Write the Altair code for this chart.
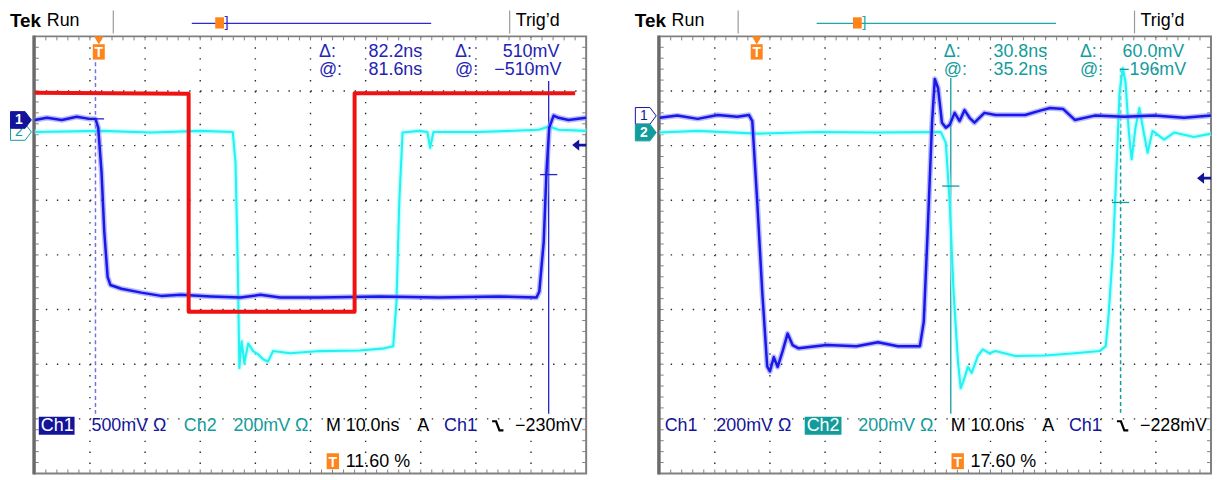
import altair as alt
import pandas as pd

# ---------------- waveform data: time in ns, level in graticule divisions ----------------
# Left screen (Ch1 500mV/div, Ch2 200mV/div, reference in red)
L_CH1_T = [0, 2.2, 4.9, 7.6, 9.9, 11.0, 11.5, 12.1, 12.6, 13.2, 13.7, 15.7, 19.3, 22.9, 26.5, 31.9,
           37.3, 40.9, 44.5, 51.7, 62.5, 73.3, 84.1, 91.0, 91.5, 92.3, 92.8, 93.3, 94.1, 95.0, 96.8, 100]
L_CH1_V = [2.47, 2.51, 2.47, 2.53, 2.49, 2.49, 2.33, 1.51, 0.42, -0.40, -0.55, -0.62, -0.69, -0.75, -0.73, -0.76,
           -0.78, -0.73, -0.78, -0.78, -0.76, -0.78, -0.76, -0.78, -0.67, 0.24, 1.51, 2.33, 2.55, 2.51, 2.47, 2.51]
L_CH2_T = [0, 12.1, 21.1, 30.1, 35.9, 36.4, 36.8, 37.1, 37.5, 38.0, 38.7, 39.6, 40.5, 41.4, 42.3, 43.2, 46.3,
           51.7, 58.9, 63.4, 65.0, 65.6, 66.1, 66.7, 69.7, 71.2, 71.7, 72.3, 80.5, 91.4, 93.2, 95.0, 100]
L_CH2_V = [2.25, 2.27, 2.24, 2.27, 2.25, 1.69, -0.13, -2.07, -1.58, -1.98, -1.62, -1.76, -1.82, -1.91, -1.95, -1.76,
           -1.80, -1.76, -1.75, -1.71, -1.67, -0.85, 0.96, 2.24, 2.27, 2.25, 1.96, 2.25, 2.25, 2.29, 2.35, 2.29, 2.27]
L_REF_T = [0, 27.9, 27.9, 58.0, 58.0, 98.0]
L_REF_V = [2.97, 2.95, -1.04, -1.04, 2.96, 2.96]

# Right screen (Ch1 200mV/div, Ch2 200mV/div)
R_CH1_T = [0, 3.2, 6.9, 10.5, 14.1, 16.2, 16.8, 17.7, 18.6, 19.5, 20.0, 20.7, 21.4, 22.3, 23.2, 24.1,
           25.2, 30.3, 35.7, 39.6, 43.2, 47.2, 47.9, 48.6, 49.4, 49.9, 50.5, 51.2, 51.9, 52.6, 53.5,
           54.4, 55.3, 56.2, 57.1, 58.9, 60.9, 66.3, 69.0, 70.8, 73.2, 75.3, 78.9, 84.3, 89.7, 95.1, 100]
R_CH1_V = [2.51, 2.55, 2.49, 2.56, 2.53, 2.56, 2.45, 0.96, -0.67, -2.04, -2.13, -1.87, -2.05, -1.76, -1.44, -1.65,
           -1.71, -1.65, -1.67, -1.60, -1.67, -1.67, -1.22, 0.42, 2.42, 3.22, 3.05, 2.42, 2.33, 2.38, 2.60,
           2.45, 2.65, 2.51, 2.42, 2.60, 2.56, 2.56, 2.64, 2.69, 2.67, 2.47, 2.55, 2.53, 2.55, 2.51, 2.55]
R_CH2_T = [0, 6.9, 17.7, 28.5, 39.3, 51.0, 51.9, 52.6, 53.3, 54.1, 54.6, 55.1, 55.9, 56.6, 57.7, 58.6,
           59.8, 60.9, 64.5, 69.9, 75.3, 79.8, 80.9, 81.4, 82.2, 82.9, 83.4, 84.0, 84.5, 85.1, 85.6,
           86.3, 87.0, 87.8, 88.5, 89.4, 91.5, 93.3, 96.9, 100]
R_CH2_V = [2.24, 2.27, 2.22, 2.25, 2.24, 2.25, 2.05, 0.96, -0.67, -1.95, -2.44, -2.31, -2.05, -2.16, -1.85, -1.73,
           -1.80, -1.76, -1.85, -1.84, -1.80, -1.76, -1.67, -1.13, 0.05, 1.69, 2.96, 3.42, 3.15, 2.24, 1.75,
           2.33, 2.69, 2.24, 1.87, 2.27, 2.11, 2.24, 2.16, 2.22]

# Scope settings / markers (ns and divisions)
CH1_GND = [2.47, 2.545]
CH2_GND = [2.25, 2.24]
TRIG_T = [11.6, 17.6]
TRIG_LVL = [2.01, 1.405]
CUR_SOLID_T = [93.2, 52.8]
CUR_SOLID_V = [1.47, 1.26]
CUR_DASH_T = [11.0, 83.6]
CUR_DASH_V = [2.49, 0.96]

READ_TIME = [["82.2ns", "81.6ns"], ["30.8ns", "35.2ns"]]
READ_VOLT = [["510mV", "\u2212510mV"], ["60.0mV", "\u2212196mV"]]
CH1_SCALE = ["500mV \u03a9", "200mV \u03a9"]
CH2_SCALE = ["200mV \u03a9", "200mV \u03a9"]
TRIG_READ = ["\u2212230mV", "\u2212228mV"]
TRIG_POS = ["11.60 %", "17.60 %"]

# graticule
GRID_T = [10, 20, 30, 40, 50, 60, 70, 80, 90]
GRID_V = [-3, -2, -1, 0, 1, 2, 3]
TICK_T = [2 * i for i in range(1, 50)]
TICK_V = [round(-4 + 0.2 * i, 2) for i in range(1, 40)]

# ---------------- styling ----------------
W, H = 555, 440
FONT = "Liberation Sans"
NAVY = "#14149a"
BLUE = "#1818e8"
BLUE_HALO = "#8c8cff"
TEAL = "#139c9c"
CYAN = "#22f2f2"
CYAN_HALO = "#a8ffff"
RED = "#f01212"
ORANGE = "#ff8419"
GRID = "#2a2a2a"
FRAME = "#808080"

XS = alt.Scale(domain=[0, 100], nice=False, zero=False)
YS = alt.Scale(domain=[-4, 4], nice=False, zero=False)
ONE = pd.DataFrame({"k": [0]})


def X(field="t"):
    return alt.X(f"{field}:Q", scale=XS, axis=None)


def Y(field="v"):
    return alt.Y(f"{field}:Q", scale=YS, axis=None)


def txt(s, x, y, color="#000000", size=18, weight="normal", align="left"):
    return alt.Chart(ONE).mark_text(text=s, align=align, baseline="middle", font=FONT,
                                    fontSize=size, fontWeight=weight, color=color
                                    ).encode(x=alt.value(x), y=alt.value(y))


def rule(x1, y1, x2, y2, color, w=1.0, dash=None):
    kw = dict(color=color, strokeWidth=w)
    if dash:
        kw["strokeDash"] = dash
    return alt.Chart(ONE).mark_rule(**kw).encode(x=alt.value(x1), y=alt.value(y1),
                                                   x2=alt.value(x2), y2=alt.value(y2))


def box(x1, y1, x2, y2, fill):
    return alt.Chart(ONE).mark_rect(color=fill).encode(x=alt.value(x1), y=alt.value(y1),
                                                       x2=alt.value(x2), y2=alt.value(y2))


def trace(ts, vs, color, w, halo=None, hw=0):
    df = pd.DataFrame({"t": ts, "v": vs, "i": list(range(len(ts)))})
    enc = dict(x=X(), y=Y(), order=alt.Order("i:Q"))
    out = []
    if halo:
        out.append(alt.Chart(df).mark_line(color=halo, strokeWidth=hw, opacity=0.6,
                                           strokeJoin="round").encode(**enc))
    out.append(alt.Chart(df).mark_line(color=color, strokeWidth=w, strokeJoin="round").encode(**enc))
    return out


CH_MARK = "M-1,-0.8 L0.4,-0.8 L1,0 L0.4,0.8 L-1,0.8 Z"
TBOX = "M-0.72,-0.85 L0.72,-0.85 L0.72,1 L-0.72,1 Z"
ARROW = "M-1,0 L0,-0.8 L0,-0.2 L1,-0.2 L1,0.2 L0,0.2 L0,0.8 Z"
HBAR = "M-1,0 L1,0"
SLOPE = "M-1,-0.8 L-0.3,-0.8 L0.3,0.8 L1,0.8"


def panel(p):
    L = []
    # anchor for layout (top-left corner of screen area)
    L.append(alt.Chart(ONE).mark_point(opacity=0, size=1).encode(x=alt.value(-25), y=alt.value(-25)))

    # graticule dots
    L.append(alt.Chart(pd.DataFrame({"t": GRID_T})).mark_rule(
        color=GRID, strokeWidth=1.4, strokeDash=[1.4, 9.6]).encode(x=X(), y=alt.value(0), y2=alt.value(H)))
    L.append(alt.Chart(pd.DataFrame({"v": GRID_V})).mark_rule(
        color=GRID, strokeWidth=1.4, strokeDash=[1.4, 9.7]).encode(y=Y(), x=alt.value(0), x2=alt.value(W)))
    # edge ticks
    tt = pd.DataFrame({"t": TICK_T})
    tv = pd.DataFrame({"v": TICK_V})
    L.append(alt.Chart(tt).mark_rule(color=FRAME, strokeWidth=1).encode(x=X(), y=alt.value(0), y2=alt.value(4)))
    L.append(alt.Chart(tt).mark_rule(color=FRAME, strokeWidth=1).encode(x=X(), y=alt.value(H), y2=alt.value(H - 4)))
    L.append(alt.Chart(tv).mark_rule(color=FRAME, strokeWidth=1).encode(y=Y(), x=alt.value(0), x2=alt.value(4)))
    L.append(alt.Chart(tv).mark_rule(color=FRAME, strokeWidth=1).encode(y=Y(), x=alt.value(W), x2=alt.value(W - 4)))
    # frame
    L.append(alt.Chart(ONE).mark_rect(fillOpacity=0, stroke=FRAME, strokeWidth=2).encode(
        x=alt.value(0), x2=alt.value(W), y=alt.value(0), y2=alt.value(H)))
    L.append(rule(-1, -1, -1, H + 1, "#6a6a6a", 3))

    # cursors
    ccol = "#2323c8" if p == 0 else TEAL
    dcol = "#7272e6" if p == 0 else TEAL
    cs = pd.DataFrame({"t": [CUR_SOLID_T[p]], "v": [CUR_SOLID_V[p]]})
    cd = pd.DataFrame({"t": [CUR_DASH_T[p]], "v": [CUR_DASH_V[p]]})
    L.append(alt.Chart(cs).mark_rule(color=ccol, strokeWidth=1.3).encode(
        x=X(), y=alt.value(45 if p == 0 else 42), y2=alt.value(380)))
    L.append(alt.Chart(cd).mark_rule(color=dcol, strokeWidth=1.5, strokeDash=[4, 3]).encode(
        x=X(), y=alt.value(26 if p == 0 else 32), y2=alt.value(380)))

    # traces
    if p == 0:
        L += trace(L_CH2_T, L_CH2_V, CYAN, 2.1, CYAN_HALO, 5)
        L += trace(L_CH1_T, L_CH1_V, BLUE, 2.5, BLUE_HALO, 5.5)
        L += trace(L_REF_T, L_REF_V, RED, 4)
    else:
        L += trace(R_CH2_T, R_CH2_V, CYAN, 2.1, CYAN_HALO, 5)
        L += trace(R_CH1_T, R_CH1_V, BLUE, 2.5, BLUE_HALO, 5.5)

    # cursor cross bars
    L.append(alt.Chart(cs).mark_point(shape=HBAR, size=300, stroke=ccol, strokeWidth=1.3, filled=False,
                                      opacity=1).encode(x=X(), y=Y()))
    L.append(alt.Chart(cd).mark_point(shape=HBAR, size=300, stroke=ccol, strokeWidth=1.3, filled=False,
                                      opacity=1).encode(x=X(), y=Y()))

    # trigger marker at top
    tr = pd.DataFrame({"t": [TRIG_T[p]], "v": [TRIG_LVL[p]]})
    L.append(alt.Chart(tr).mark_point(shape="triangle-down", size=90, filled=True, color=ORANGE,
                                      opacity=1).encode(x=X(), y=alt.value(4)))
    L.append(alt.Chart(tr).mark_point(shape=TBOX, size=280, filled=True, color=ORANGE,
                                      opacity=1).encode(x=X(), y=alt.value(15)))
    L.append(alt.Chart(tr).mark_text(text="T", font=FONT, fontSize=14, fontWeight="bold", color="white",
                                     baseline="middle").encode(x=X(), y=alt.value(17)))
    # trigger level arrow at right edge
    L.append(alt.Chart(tr).mark_point(shape=ARROW, size=200, filled=True, color=NAVY,
                                      opacity=1).encode(x=alt.value(548), y=Y()))

    # channel markers
    g1 = pd.DataFrame({"v": [CH1_GND[p]]})
    g2 = pd.DataFrame({"v": [CH2_GND[p]]})
    ms = 440
    if p == 0:
        L.append(alt.Chart(g2).mark_point(shape=CH_MARK, size=ms, filled=True, fill="white", stroke=TEAL,
                                          strokeWidth=1, opacity=1).encode(x=alt.value(-14), y=Y()))
        L.append(alt.Chart(g2).mark_text(text="2", font=FONT, fontSize=14, color=TEAL,
                                         baseline="middle").encode(x=alt.value(-16), y=Y()))
        L.append(alt.Chart(g1).mark_point(shape=CH_MARK, size=ms, filled=True, fill=NAVY, stroke=NAVY,
                                          strokeWidth=1, opacity=1).encode(x=alt.value(-14), y=Y()))
        L.append(alt.Chart(g1).mark_text(text="1", font=FONT, fontSize=14, fontWeight="bold", color="white",
                                         baseline="middle").encode(x=alt.value(-16), y=Y()))
    else:
        L.append(alt.Chart(g1).mark_point(shape=CH_MARK, size=ms, filled=True, fill="white", stroke=NAVY,
                                          strokeWidth=1, opacity=1).encode(x=alt.value(-14), y=Y()))
        L.append(alt.Chart(g1).mark_text(text="1", font=FONT, fontSize=14, color=NAVY,
                                         baseline="middle").encode(x=alt.value(-16), y=Y()))
        L.append(alt.Chart(g2).mark_point(shape=CH_MARK, size=ms, filled=True, fill=TEAL, stroke=TEAL,
                                          strokeWidth=1, opacity=1).encode(x=alt.value(-14), y=Y()))
        L.append(alt.Chart(g2).mark_text(text="2", font=FONT, fontSize=14, fontWeight="bold", color="white",
                                         baseline="middle").encode(x=alt.value(-16), y=Y()))

    # header
    hcol = "#2a2ad6" if p == 0 else "#1fa6a6"
    L.append(txt("Tek", -25, -15, "#000000", 19, "bold"))
    L.append(txt("Run", 12, -15, "#000000", 18))
    L.append(rule(79, -26, 79, -3, "#9a9a9a", 1.2))
    L.append(rule(478, -26, 478, -3, "#9a9a9a", 1.2))
    L.append(rule(158, -13, 399, -13, hcol, 1.3))
    mx = 186 if p == 0 else 199
    L.append(alt.Chart(ONE).mark_point(shape=TBOX, size=150, filled=True, color=ORANGE, opacity=1).encode(
        x=alt.value(mx), y=alt.value(-14)))
    L.append(txt("]", mx + 5, -14, hcol, 15))
    L.append(txt("Trig\u2019d", 484, -15, "#000000", 18))

    # cursor readouts
    rcol = "#2323b4" if p == 0 else TEAL
    L.append(txt("\u0394:", 286, 16, rcol))
    L.append(txt("@:", 286, 34, rcol))
    L.append(txt(READ_TIME[p][0], 390, 16, rcol, align="right"))
    L.append(txt(READ_TIME[p][1], 390, 34, rcol, align="right"))
    L.append(txt("\u0394:", 423, 16, rcol))
    L.append(txt("@:", 423, 34, rcol))
    L.append(txt(READ_VOLT[p][0], 528, 16, rcol, align="right"))
    L.append(txt(READ_VOLT[p][1], 530, 34, rcol, align="right"))

    # bottom status line
    yb = 392
    if p == 0:
        L.append(box(4, 383, 40, 401, NAVY))
        L.append(txt("Ch1", 6, yb, "white"))
    else:
        L.append(txt("Ch1", 5, yb, NAVY))
    L.append(txt(CH1_SCALE[p], 57, yb, NAVY))
    if p == 1:
        L.append(box(146, 383, 183, 401, TEAL))
        L.append(txt("Ch2", 148, yb, "white"))
    else:
        L.append(txt("Ch2", 150, yb, TEAL))
    L.append(txt(CH2_SCALE[p], 200, yb, TEAL))
    L.append(txt("M 10.0ns", 293, yb, "#000000"))
    L.append(txt("A", 385, yb, "#000000"))
    L.append(txt("Ch1", 412, yb, NAVY))
    L.append(alt.Chart(ONE).mark_point(shape=SLOPE, size=130, filled=False, stroke="#000000", strokeWidth=2.2,
                                       opacity=1).encode(x=alt.value(466), y=alt.value(yb)))
    L.append(txt(TRIG_READ[p], 551, yb, "#000000", align="right"))
    L.append(alt.Chart(ONE).mark_point(shape=TBOX, size=300, filled=True, color=ORANGE, opacity=1).encode(
        x=alt.value(300), y=alt.value(427)))
    L.append(txt("T", 300, 429, "white", 14, "bold", align="center"))
    L.append(txt(TRIG_POS[p], 313, 428, "#000000"))

    return alt.layer(*L).properties(width=W, height=H)


chart = alt.hconcat(panel(0), panel(1), spacing=74, bounds="flush").properties(
    padding=0, background="white"
).configure_view(strokeWidth=0)

chart.save("out.html", embed_options={"renderer": "svg", "actions": False})
